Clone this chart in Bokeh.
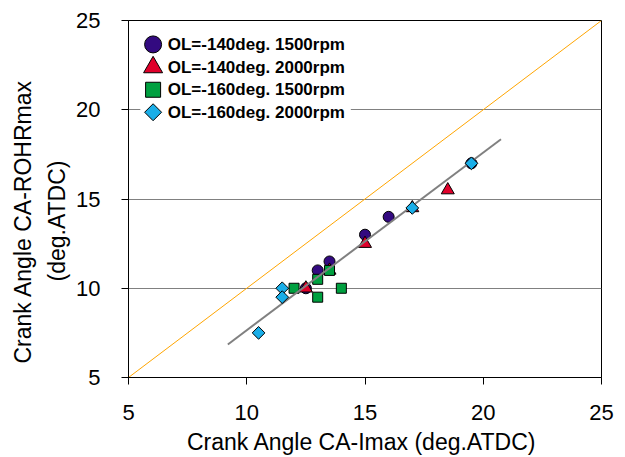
from bokeh.plotting import figure
from bokeh.models import FixedTicker, Range1d, Title
from bokeh.core.properties import value
from bokeh.embed import file_html
from bokeh.resources import INLINE

# ---- data ----
s1_x = [12.5, 13.0, 13.5, 15.0, 16.0, 19.5]
s1_y = [10.0, 11.0, 11.5, 13.0, 14.0, 17.0]
s2_x = [12.5, 13.5, 15.0, 17.0, 18.5]
s2_y = [10.0, 11.0, 12.5, 14.5, 15.5]
s3_x = [12.0, 13.0, 13.5, 13.0, 14.0]
s3_y = [10.0, 10.5, 11.0, 9.5, 10.0]
s4_x = [11.5, 11.5, 10.5, 17.0, 19.5]
s4_y = [10.0, 9.5, 7.5, 14.5, 17.0]
fit_x = [9.2, 20.75]
fit_y = [6.85, 18.35]
diag_x = [5, 25]
diag_y = [5, 25]
ticks = [5, 10, 15, 20, 25]
labels = ["OL=-140deg. 1500rpm", "OL=-140deg. 2000rpm",
          "OL=-160deg. 1500rpm", "OL=-160deg. 2000rpm"]
x_title = "Crank Angle  CA-Imax (deg.ATDC)"
y_title = ["Crank Angle  CA-ROHRmax", "(deg.ATDC)"]

C1, C2, C3, C4 = "#330a80", "#e0002a", "#00a040", "#1aaee8"
FONT = "Liberation Sans"

p = figure(width=625, height=457, output_backend="svg", toolbar_location=None,
           x_range=Range1d(5, 25), y_range=Range1d(5, 25),
           min_border_left=128, min_border_right=24, min_border_top=20,
           min_border_bottom=80)
p.background_fill_color = "white"
p.border_fill_color = "white"
p.outline_line_color = "black"
p.outline_line_width = 1

for ax in (p.xaxis[0], p.yaxis[0]):
    ax.ticker = FixedTicker(ticks=ticks)
    ax.minor_tick_line_color = None
    ax.major_tick_in = 0
    ax.major_tick_out = 7
    ax.major_tick_line_color = "black"
    ax.axis_line_color = "black"
    ax.major_label_text_font = FONT
    ax.major_label_text_font_size = "22px"
    ax.major_label_text_color = "black"
    ax.axis_label_text_font = FONT
    ax.axis_label_text_font_size = "23px"
    ax.axis_label_text_font_style = "normal"
    ax.axis_label_text_color = "black"

p.xaxis.axis_label = x_title
p.xaxis.major_label_standoff = 20
p.yaxis.major_label_standoff = 21
p.xaxis.axis_label_standoff = 6

# y-axis title as two left-side titles (inner line first)
p.add_layout(Title(text=y_title[1], align="left", offset=96, standoff=8,
                   text_font=FONT, text_font_size="23px", text_font_style="normal",
                   text_color="black"), "left")
p.add_layout(Title(text=y_title[0], align="left", offset=14, standoff=3,
                   text_font=FONT, text_font_size="23px", text_font_style="normal",
                   text_color="black"), "left")

p.xgrid.grid_line_color = None
p.ygrid.ticker = FixedTicker(ticks=ticks)
p.ygrid.grid_line_color = "#808080"
p.ygrid.grid_line_width = 1

# diagonal y = x
p.line(diag_x, diag_y, line_color="#ffa500", line_width=1)

# legend background
p.quad(left=[5.5], right=[14.4], bottom=[19.3], top=[24.4],
       fill_color="white", line_color=None)

# data
p.scatter(s1_x, s1_y, marker="circle", size=11, fill_color=C1, line_color="black", line_width=1)
p.scatter(s2_x, s2_y, marker="triangle", size=13, fill_color=C2, line_color="black", line_width=1)
p.scatter(s3_x, s3_y, marker="square", size=10, fill_color=C3, line_color="black", line_width=1)
p.line(fit_x, fit_y, line_color="#808080", line_width=2)
p.scatter(s4_x, s4_y, marker="square", angle=0.7853981634, size=9,
          fill_color=C4, line_color="black", line_width=1)

# legend
leg_x = 6.04
leg_tx = 6.66
leg_y = [23.66, 22.38, 21.12, 19.86]
p.scatter([leg_x], [leg_y[0]], marker="circle", size=17, fill_color=C1, line_color="black")
p.scatter([leg_x], [leg_y[1]], marker="triangle", size=19, fill_color=C2, line_color="black")
p.scatter([leg_x], [leg_y[2]], marker="square", size=15, fill_color=C3, line_color="black")
p.scatter([leg_x], [leg_y[3]], marker="square", angle=0.7853981634, size=12,
          fill_color=C4, line_color="black")
p.text([leg_tx] * 4, leg_y, text=labels, text_font=value(FONT), text_font_style="bold",
       text_font_size="17px", text_baseline="middle", text_align="left", text_color="black")

open("out.html", "w").write(file_html(p, INLINE))
